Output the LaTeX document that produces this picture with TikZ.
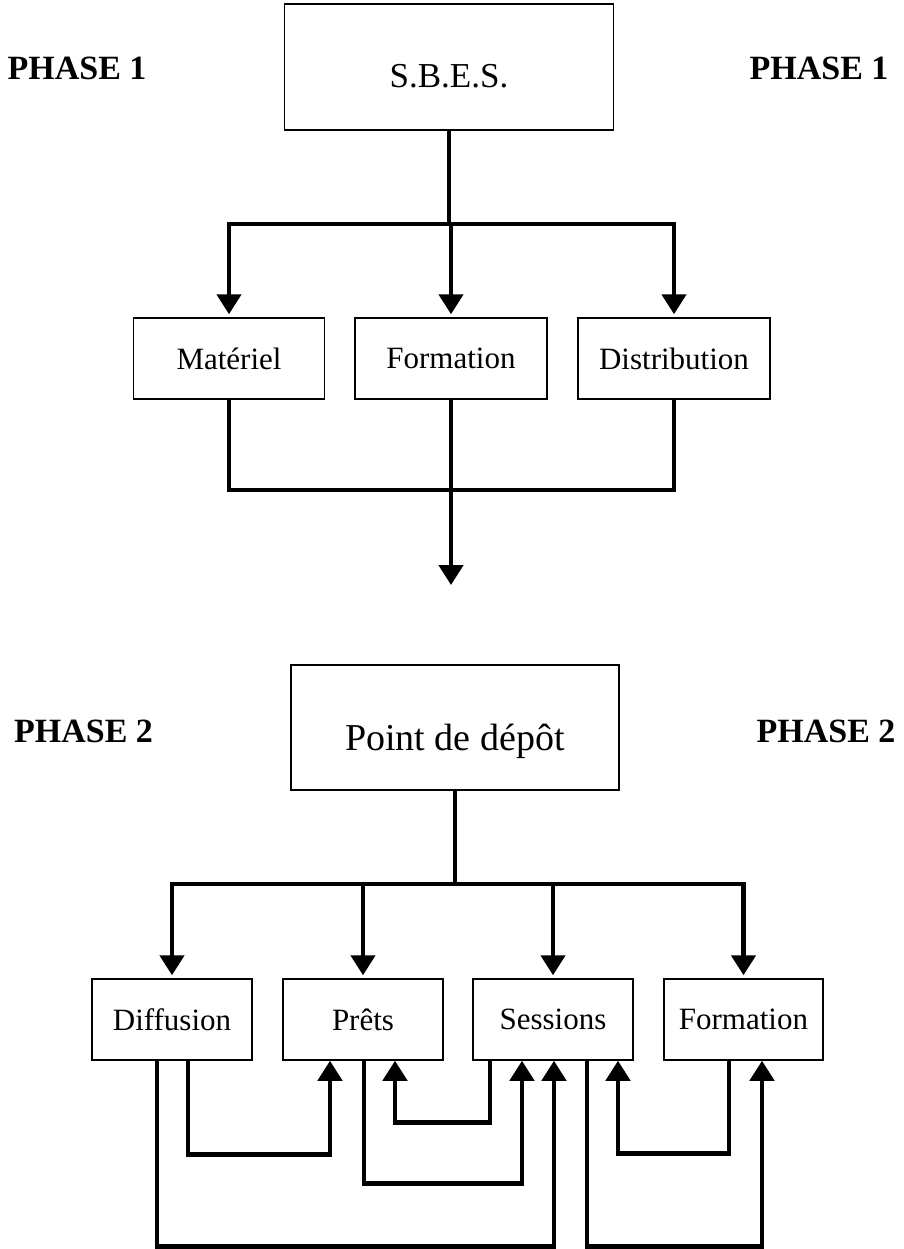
\documentclass[tikz,border=0pt]{standalone}
\usepackage{fontspec}
\setmainfont{Liberation Serif}
\usetikzlibrary{arrows.meta}
\tikzset{
  box/.style={draw, line width=1.5pt, minimum height=81pt, inner sep=0pt,
    font=\fontsize{31}{36}\selectfont},
  bigbox/.style={draw, line width=1.5pt, minimum width=329pt, minimum height=126pt, inner sep=0pt},
  phase/.style={anchor=base, inner sep=0pt, font=\fontsize{34}{40}\selectfont\bfseries},
  lbl/.style={anchor=base, inner sep=0pt},
  wire/.style={line width=4.6pt, line join=miter},
  arr/.style={wire, -{Triangle[width=24pt,length=20pt]}}
}
\begin{document}
\begin{tikzpicture}[x=1pt,y=-1pt]
\useasboundingbox (0,0) rectangle (903,1249);

% ---------- Phase 1 ----------
\node[phase] (p1l) at (77,80) {PHASE 1};
\node[phase] (p1r) at (819,80) {PHASE 1};
\node[bigbox] (sbes) at (449,67) {};
\node[lbl, font=\fontsize{35}{40}\selectfont] (sbest) at (449,88) {S.B.E.S.};

\node[box, minimum width=191pt] (mat) at (229,358.5) {Matériel};
\node[box, minimum width=192pt] (for1) at (451,358.5) {Formation};
\node[box, minimum width=192pt] (dist) at (674,358.5) {Distribution};

\coordinate (bus1) at (449,224);
\draw[wire] (sbes.south) -- (bus1);
\draw[arr] (bus1) -| ([yshift=3pt]mat.north);
\draw[arr] (bus1) -| ([yshift=3pt]dist.north);
\draw[arr] (bus1) -| ([yshift=3pt]for1.north);

\coordinate (bus2) at (451,490);
\coordinate (out1) at (451,585);
\draw[wire] (mat.south) |- (bus2) -| (dist.south);
\draw[arr] (for1.south) -- (out1);

% ---------- Phase 2 ----------
\node[phase] (p2l) at (83.5,742) {PHASE 2};
\node[phase] (p2r) at (826,742) {PHASE 2};
\node[bigbox, minimum width=328pt, minimum height=125pt] (dep) at (455,727.5) {};
\node[lbl, font=\fontsize{38}{44}\selectfont] (dept) at (455,750) {Point de dépôt};

\node[box, minimum width=160pt] (dif) at (172,1019.5) {Diffusion};
\node[box, minimum width=160pt] (pre) at (363,1019.5) {Prêts};
\node[box, minimum width=160pt] (ses) at (553,1019.5) {Sessions};
\node[box, minimum width=159pt] (for2) at (743.5,1019.5) {Formation};

\coordinate (bus3) at (455,884);
\draw[wire] (dep.south) -- (bus3);
\draw[arr] (bus3) -| ([yshift=3pt]dif.north);
\draw[arr] (bus3) -| ([yshift=3pt]pre.north);
\draw[arr] (bus3) -| ([yshift=3pt]ses.north);
\draw[arr] (bus3) -| ([yshift=3pt]for2.north);

% feedback loops
\draw[arr] ([xshift=16pt]dif.south) -- ++(0,94) -| ([xshift=-33pt]pre.south);
\draw[arr] ([xshift=-15pt]dif.south) -- ++(0,186) -| ([xshift=1pt]ses.south);
\draw[arr] ([xshift=1pt]pre.south) -- ++(0,123) -| ([xshift=-31pt]ses.south);
\draw[arr] ([xshift=-63pt]ses.south) -- ++(0,62) -| ([xshift=32pt]pre.south);
\draw[arr] ([xshift=34pt]ses.south) -- ++(0,186) -| ([xshift=18.5pt]for2.south);
\draw[arr] ([xshift=-14.5pt]for2.south) -- ++(0,93) -| ([xshift=65pt]ses.south);
\end{tikzpicture}
\end{document}
